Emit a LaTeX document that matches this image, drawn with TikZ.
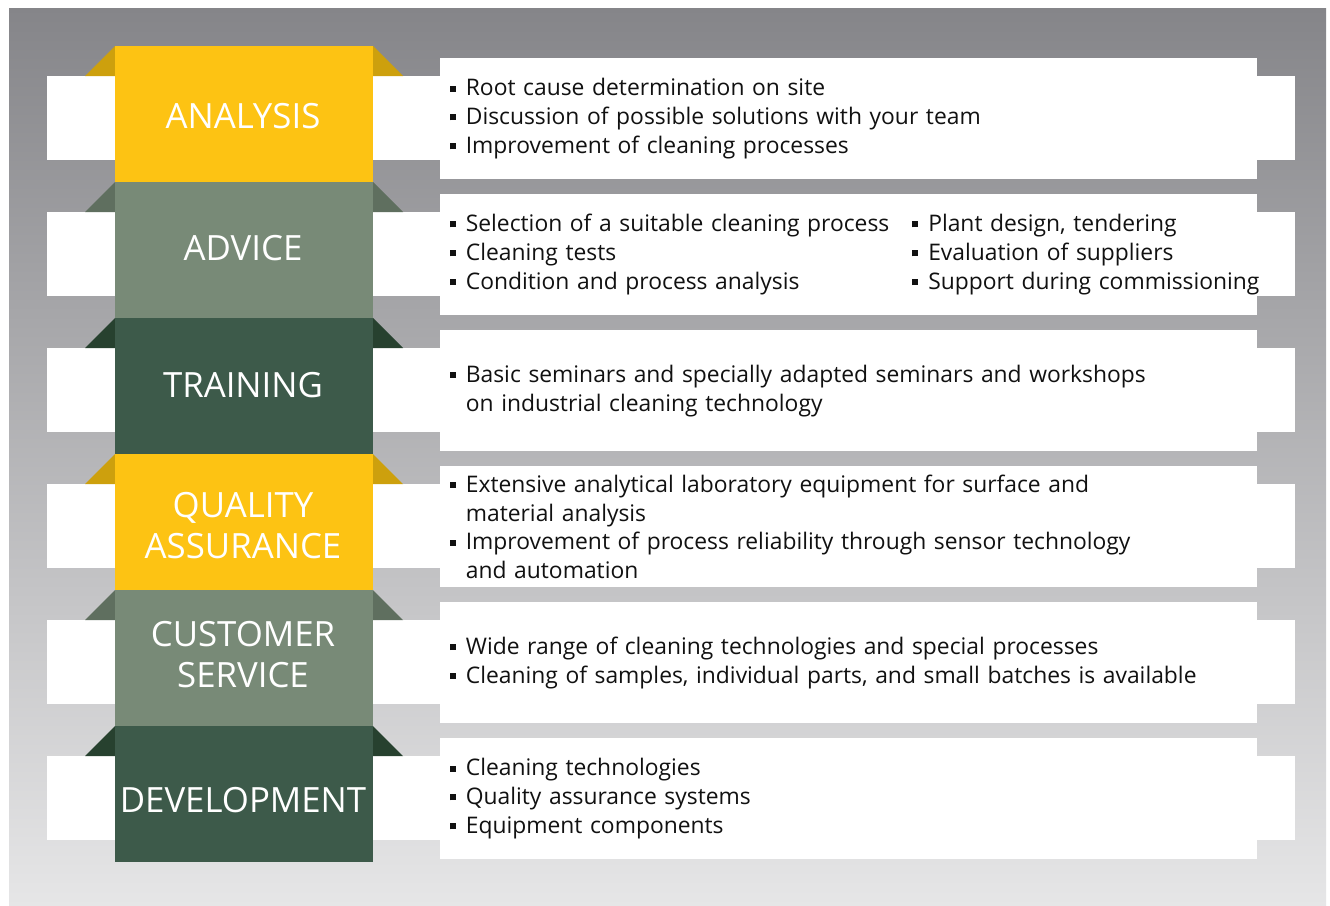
\documentclass[tikz,border=0pt]{standalone}
\usepackage{fontspec}
\setmainfont{Open Sans}

\definecolor{bgtop}{HTML}{858589}
\definecolor{bgbot}{HTML}{E6E6E7}
\definecolor{cyellow}{HTML}{FDC313}
\definecolor{cyellowdk}{HTML}{CDA00D}
\definecolor{csage}{HTML}{788A77}
\definecolor{csagedk}{HTML}{5F6F5F}
\definecolor{cforest}{HTML}{3D5A4A}
\definecolor{cforestdk}{HTML}{27412F}
\definecolor{ctext}{HTML}{111111}

\newcommand{\sq}{\rule[0.19em]{0.12cm}{0.12cm}\hspace{0.2cm}}
\newcommand{\sqin}{\hphantom{\sq}}

\begin{document}
\begin{tikzpicture}[x=0.02cm,y=-0.02cm,
    stagebox/.style={minimum width=5.16cm,minimum height=2.72cm,inner sep=0pt},
    stagelabel/.style={inner sep=0pt,text=white,align=center,font=\fontsize{19.8}{23.3}\selectfont},
    panel/.style={fill=white,anchor=north west,minimum width=16.34cm,minimum height=2.42cm,
        inner xsep=0.19cm,inner ysep=0pt,text width=15.96cm,align=left,text=ctext,
        font=\fontsize{13}{16.46}\selectfont}]

        % background
        \fill[white] (0,0) rectangle (1330,906);
        \shade[top color=bgtop,bottom color=bgbot] (9,8) rectangle (1326,906);

        % white strips
        \fill[white] (47,76) rectangle (1295,160);
        \fill[white] (47,212) rectangle (1295,296);
        \fill[white] (47,348) rectangle (1295,432);
        \fill[white] (47,484) rectangle (1295,568);
        \fill[white] (47,620) rectangle (1295,704);
        \fill[white] (47,756) rectangle (1295,840);

        % panels
        \node[panel] (panalysis) at (440,58) {\sq Root cause determination on site\\
            \sq Discussion of possible solutions with your team\\
            \sq Improvement of cleaning processes};
        \node[panel] (padvice) at (440,194) {\begin{tabular}{@{}p{9.25cm}@{}l@{}}
            \sq Selection of a suitable cleaning process & \sq Plant design, tendering\\
            \sq Cleaning tests & \sq Evaluation of suppliers\\
            \sq Condition and process analysis & \sq Support during commissioning
            \end{tabular}};
        \node[panel] (ptraining) at (440,330) {\sq Basic seminars and specially adapted seminars and workshops\\
            \sqin on industrial cleaning technology};
        \node[panel] (pquality) at (440,466) {\sq Extensive analytical laboratory equipment for surface and\\
            \sqin material analysis\\
            \sq Improvement of process reliability through sensor technology\\
            \sqin and automation};
        \node[panel] (pservice) at (440,602) {\sq Wide range of cleaning technologies and special processes\\
            \sq Cleaning of samples, individual parts, and small batches is available};
        \node[panel] (pdevelopment) at (440,738) {\sq Cleaning technologies\\
            \sq Quality assurance systems\\
            \sq Equipment components};

        % folded corners
        \fill[cyellowdk] (85,76) -- (115,46) -- (115,76) -- cycle;
        \fill[cyellowdk] (373,46) -- (403,76) -- (373,76) -- cycle;
        \fill[csagedk] (85,212) -- (115,182) -- (115,212) -- cycle;
        \fill[csagedk] (373,182) -- (403,212) -- (373,212) -- cycle;
        \fill[cforestdk] (85,348) -- (115,318) -- (115,348) -- cycle;
        \fill[cforestdk] (373,318) -- (403,348) -- (373,348) -- cycle;
        \fill[cyellowdk] (85,484) -- (115,454) -- (115,484) -- cycle;
        \fill[cyellowdk] (373,454) -- (403,484) -- (373,484) -- cycle;
        \fill[csagedk] (85,620) -- (115,590) -- (115,620) -- cycle;
        \fill[csagedk] (373,590) -- (403,620) -- (373,620) -- cycle;
        \fill[cforestdk] (85,756) -- (115,726) -- (115,756) -- cycle;
        \fill[cforestdk] (373,726) -- (403,756) -- (373,756) -- cycle;

        % stages
        \node[stagebox,fill=cyellow] (analysis) at (244,114) {};
        \node[stagebox,fill=csage] (advice) at (244,250) {};
        \node[stagebox,fill=cforest] (training) at (244,386) {};
        \node[stagebox,fill=cyellow] (quality) at (244,522) {};
        \node[stagebox,fill=csage] (service) at (244,658) {};
        \node[stagebox,fill=cforest] (development) at (244,794) {};

        \node[stagelabel] (lanalysis) at (243,116) {ANALYSIS};
        \node[stagelabel] (ladvice) at (243,248) {ADVICE};
        \node[stagelabel] (ltraining) at (243,385) {TRAINING};
        \node[stagelabel] (lquality) at (243,526) {QUALITY\\ASSURANCE};
        \node[stagelabel] (lservice) at (243,655) {CUSTOMER\\SERVICE};
        \node[stagelabel] (ldevelopment) at (243,800) {DEVELOPMENT};
    \end{tikzpicture}
\end{document}
